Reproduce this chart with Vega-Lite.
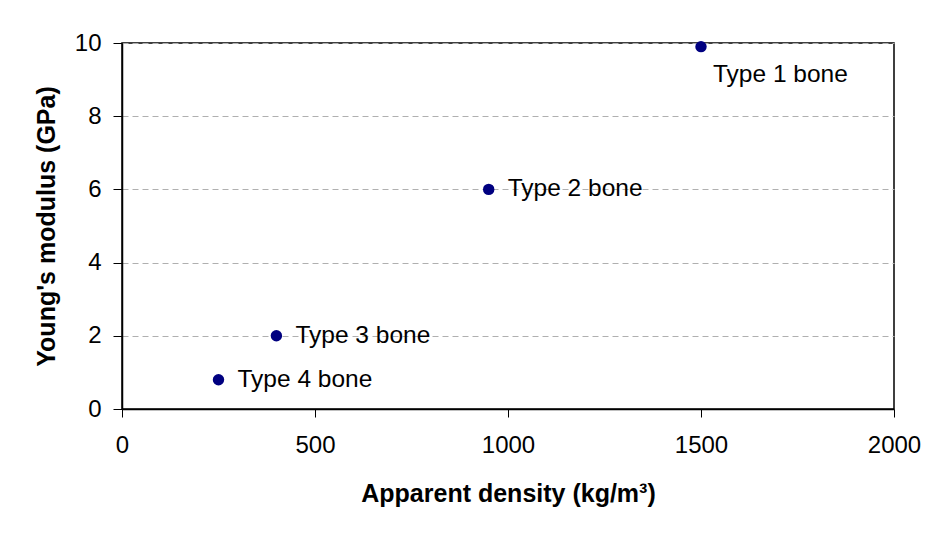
{
  "$schema": "https://vega.github.io/schema/vega-lite/v6.json",
  "width": 772,
  "height": 366,
  "autosize": "none",
  "padding": {"left": 122, "top": 43, "right": 35, "bottom": 131},
  "background": "white",
  "config": {
    "font": "Liberation Sans",
    "view": {"stroke": "black", "strokeWidth": 1.5},
    "axis": {
      "domainColor": "black",
      "domainWidth": 1.5,
      "tickColor": "black",
      "tickWidth": 1,
      "labelColor": "black",
      "labelFont": "Liberation Sans",
      "labelFontSize": 24,
      "labelFlush": false,
      "titleFont": "Liberation Sans",
      "titleFontSize": 25,
      "titleFontWeight": "bold",
      "titleColor": "black"
    }
  },
  "data": {
    "values": [
      {"density": 250, "modulus": 0.8, "label": "Type 4 bone", "pos": "right"},
      {"density": 400, "modulus": 2.0, "label": "Type 3 bone", "pos": "right"},
      {"density": 950, "modulus": 6.0, "label": "Type 2 bone", "pos": "right"},
      {"density": 1500, "modulus": 9.9, "label": "Type 1 bone", "pos": "below"}
    ]
  },
  "encoding": {
    "x": {
      "field": "density",
      "type": "quantitative",
      "scale": {"domain": [0, 2000], "nice": false},
      "axis": {
        "title": "Apparent density (kg/m³)",
        "values": [0, 500, 1000, 1500, 2000],
        "format": "d",
        "grid": false,
        "tickSize": 8,
        "labelPadding": 16,
        "titlePadding": 24
      }
    },
    "y": {
      "field": "modulus",
      "type": "quantitative",
      "scale": {"domain": [0, 10], "nice": false},
      "axis": {
        "title": "Young's modulus (GPa)",
        "values": [0, 2, 4, 6, 8, 10],
        "grid": true,
        "gridColor": "#b0b0b0",
        "gridDash": [6, 4],
        "gridWidth": 1,
        "tickSize": 9,
        "labelPadding": 12,
        "titlePadding": 15
      }
    }
  },
  "layer": [
    {
      "mark": {"type": "point", "filled": true, "shape": "circle", "size": 130, "color": "#000080", "opacity": 1}
    },
    {
      "transform": [{"filter": "datum.pos == 'right'"}],
      "mark": {"type": "text", "align": "left", "baseline": "middle", "dx": 19, "fontSize": 24.5, "color": "black"},
      "encoding": {"text": {"field": "label"}}
    },
    {
      "transform": [{"filter": "datum.pos == 'below'"}],
      "mark": {"type": "text", "align": "left", "baseline": "middle", "dx": 12, "dy": 28, "fontSize": 24.5, "color": "black"},
      "encoding": {"text": {"field": "label"}}
    }
  ]
}
